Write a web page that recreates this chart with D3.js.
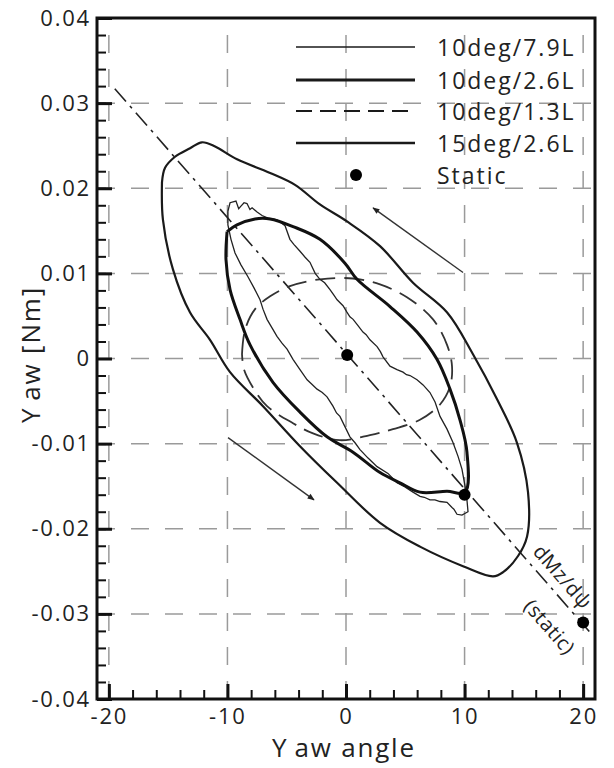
<!DOCTYPE html>
<html>
<head>
<meta charset="utf-8">
<script src="https://cdn.jsdelivr.net/npm/d3@7/dist/d3.min.js"></script>
<style>
  body { margin: 0; background: #fff; }
  text { font-family: "Open Sans", sans-serif; fill: #222; }
</style>
</head>
<body>
<svg></svg>
<script>
// yaw moment vs yaw angle, hysteresis loops
const xTicks = [-20, -10, 0, 10, 20];
const yTicks = [-0.04, -0.03, -0.02, -0.01, 0, 0.01, 0.02, 0.03, 0.04];
const yTickLabels = ["-0.04", "-0.03", "-0.02", "-0.01", "0", "0.01", "0.02", "0.03", "0.04"];
const seriesNames = ["10deg/7.9L", "10deg/2.6L", "10deg/1.3L", "15deg/2.6L", "Static"];

// 10deg / 7.9L  (thin, jagged)
const loop79 = [
  [-9.96, 0.0173], [-9.78, 0.0183], [-9.28, 0.0185], [-9.05, 0.0176], [-8.86, 0.0179], [-8.6, 0.0183],
  [-8.35, 0.0182], [-8.1, 0.0175], [-7.92, 0.0177], [-7.5, 0.0172], [-7.08, 0.0168], [-6.58, 0.0165],
  [-5.82, 0.0163], [-5.14, 0.0156], [-4.73, 0.014], [-4.4, 0.0134], [-3.88, 0.0126], [-3.45, 0.0119],
  [-3.04, 0.0113], [-2.6, 0.01], [-2.2, 0.0093], [-1.8, 0.0089], [-1.35, 0.0081], [-1.05, 0.0075],
  [-0.75, 0.0069], [-0.25, 0.0062], [0.05, 0.0055], [0.33, 0.0049], [0.6, 0.0046], [0.93, 0.004],
  [1.43, 0.0031], [1.7, 0.0028], [2.02, 0.0022], [2.62, 0.0014], [2.9, 0.0008], [3.12, 0.0002],
  [3.71, -0.0009], [4.3, -0.0013], [4.81, -0.0016], [5.1, -0.0019], [5.4, -0.002], [5.99, -0.0025],
  [6.5, -0.0031], [7.08, -0.004], [7.51, -0.0051], [7.93, -0.0068], [8.52, -0.0083], [9.03, -0.0099],
  [9.45, -0.0115], [9.78, -0.013], [10.04, -0.015], [10.2, -0.0166], [10.29, -0.018], [9.78, -0.0184],
  [9.36, -0.0183], [9.1, -0.0177], [8.94, -0.0175], [8.52, -0.0169], [7.93, -0.0168], [7.5, -0.0166],
  [7.08, -0.0166], [6.6, -0.0163], [6.24, -0.0162], [5.65, -0.0157], [4.97, -0.0151], [4.3, -0.0146],
  [3.54, -0.0135], [2.62, -0.0127], [1.86, -0.0117], [1.18, -0.0107], [0.76, -0.0099], [0.33, -0.0092],
  [-0.09, -0.008], [-0.51, -0.0068], [-0.8, -0.0064], [-1.1, -0.0056], [-1.6, -0.0045], [-2.0, -0.004],
  [-2.44, -0.0036], [-2.9, -0.003], [-3.28, -0.0025], [-3.88, -0.0013], [-4.47, -0.0001], [-4.97, 0.0011],
  [-5.4, 0.0018], [-5.82, 0.0026], [-6.24, 0.0036], [-6.66, 0.0046], [-7.0, 0.0058], [-7.25, 0.0069],
  [-7.76, 0.0083], [-8.27, 0.0096], [-8.86, 0.011], [-9.36, 0.0124], [-9.7, 0.014], [-9.96, 0.0157],
  [-9.96, 0.0173]
];

// 10deg / 2.6L  (thick)
const loop26 = [
  [-10.03, 0.0149], [-9.19, 0.0157], [-7.67, 0.0164], [-6.4, 0.0164], [-4.47, 0.0155], [-2.2, 0.014],
  [-0.09, 0.0112], [0.93, 0.0093], [3.71, 0.0061], [5.99, 0.0031], [7.67, -0.0001], [8.77, -0.0036],
  [9.61, -0.0072], [10.2, -0.011], [10.04, -0.0157], [8.52, -0.0156], [6.24, -0.0157], [4.55, -0.0146],
  [2.87, -0.0134], [0.59, -0.011], [-1.6, -0.0092], [-3.88, -0.0063], [-6.16, -0.0028], [-8.09, 0.0016],
  [-8.94, 0.0046], [-9.78, 0.0081], [-10.12, 0.0116], [-10.03, 0.0149]
];

// 10deg / 1.3L  (dashed)
const loop13 = [
  [-8.77, 0.0005], [-8.51, 0.0034], [-7.67, 0.0058], [-6.4, 0.0073], [-4.73, 0.0085], [-2.2, 0.0093],
  [0.59, 0.0094], [2.87, 0.0087], [5.14, 0.0072], [7.34, 0.0046], [8.52, 0.0016], [8.94, -0.0009],
  [8.77, -0.0033], [7.93, -0.0054], [6.24, -0.0072], [3.96, -0.0083], [2.02, -0.009], [-0.51, -0.0096],
  [-2.78, -0.0088], [-4.47, -0.0076], [-6.66, -0.0056], [-7.85, -0.0034], [-8.6, -0.0013], [-8.77, 0.0005]
];

// 15deg / 2.6L
const loop15 = [
  [-15.52, 0.0207], [-15.26, 0.0224], [-14.42, 0.0237], [-13.15, 0.0247], [-12.14, 0.0254], [-11.04, 0.0249],
  [-9.19, 0.0234], [-6.4, 0.0218], [-4.3, 0.0204], [-2.2, 0.0181], [0.09, 0.0161], [2.87, 0.0132],
  [5.65, 0.0089], [8.53, 0.0054], [10.71, 0.0005], [12.74, -0.0048], [14.42, -0.0099], [15.35, -0.0157],
  [15.27, -0.0209], [14.51, -0.0232], [13.25, -0.0251], [12.4, -0.0256], [9.87, -0.0244], [6.24, -0.0221],
  [2.87, -0.0193], [-0.75, -0.0146], [-3.88, -0.0103], [-7.0, -0.0056], [-9.78, -0.0016], [-11.47, 0.0022],
  [-13.15, 0.0054], [-14.6, 0.0105], [-15.44, 0.0163], [-15.52, 0.0207]
];

const staticPts = [[0.1, 0.0004], [10, -0.016], [20, -0.031]];
const staticSlope = [[-19.5, 0.0317], [20.6, -0.0322]];
const arrows = [
  [[9.87, 0.0101], [2.28, 0.0177]],
  [[-9.95, -0.0093], [-2.7, -0.0166]]
];

const W = 614, H = 768;
const svg = d3.select("svg").attr("width", W).attr("height", H);

const x = d3.scaleLinear().domain([-21, 21]).range([97, 595]);
const y = d3.scaleLinear().domain([-0.04, 0.04]).range([699, 18]);

// grid
const grid = svg.append("g").attr("stroke", "#9a9a9a").attr("stroke-width", 1.5)
  .attr("stroke-dasharray", "18,16");
grid.selectAll(".gx").data(xTicks).enter().append("line")
  .attr("x1", (d) => x(d)).attr("x2", (d) => x(d))
  .attr("y1", y(-0.04)).attr("y2", y(0.04));
grid.selectAll(".gy").data(yTicks.slice(1, -1)).enter().append("line")
  .attr("x1", x(-21)).attr("x2", x(21))
  .attr("y1", (d) => y(d)).attr("y2", (d) => y(d));

// axes (ticks inward)
const fmtY = (d) => yTickLabels[yTicks.indexOf(d)];
const xAxis = svg.append("g").attr("transform", `translate(0,${y(-0.04)})`)
  .call(d3.axisBottom(x).tickValues(xTicks).tickSize(-15).tickPadding(9).tickFormat((d) => String(d)));
const xMinor = svg.append("g").attr("transform", `translate(0,${y(-0.04)})`)
  .call(d3.axisBottom(x).tickValues(d3.range(-20, 21, 2)).tickSize(-9).tickFormat(""));
const yAxis = svg.append("g").attr("transform", `translate(${x(-21)},0)`)
  .call(d3.axisLeft(y).tickValues(yTicks).tickSize(-15).tickPadding(6).tickFormat(fmtY));
const yMinor = svg.append("g").attr("transform", `translate(${x(-21)},0)`)
  .call(d3.axisLeft(y).tickValues(d3.range(-40, 41, 2).map((v) => v / 1000)).tickSize(-9).tickFormat(""));

[xAxis, xMinor, yAxis, yMinor].forEach((g) => {
  g.select(".domain").remove();
  g.selectAll(".tick line").attr("stroke", "#111").attr("stroke-width", 2);
});
xAxis.selectAll(".tick line").attr("stroke-width", 3);
yAxis.selectAll(".tick line").attr("stroke-width", 3);
[xAxis, yAxis].forEach((g) => {
  g.selectAll("text").style("font-family", "Open Sans, sans-serif")
    .style("font-size", "22px").style("letter-spacing", "1.8px").attr("fill", "#222");
});

// frame
svg.append("rect")
  .attr("x", x(-21)).attr("y", y(0.04))
  .attr("width", x(21) - x(-21)).attr("height", y(-0.04) - y(0.04))
  .attr("fill", "none").attr("stroke", "#111").attr("stroke-width", 3);

// axis titles
const xt = svg.append("text").attr("x", 344).attr("y", 757)
  .attr("text-anchor", "middle").style("font-size", "26px").style("letter-spacing", "1.8px");
xt.append("tspan").text("Y");
xt.append("tspan").attr("dx", 6).text("aw angle");

const yt = svg.append("text")
  .attr("transform", `translate(40,${(y(0.04) + y(-0.04)) / 2 - 4}) rotate(-90)`)
  .attr("text-anchor", "middle").style("font-size", "26px").style("letter-spacing", "1.8px");
yt.append("tspan").text("Y");
yt.append("tspan").attr("dx", 6).text("aw [Nm]");

// static slope line
const line = d3.line().x((d) => x(d[0])).y((d) => y(d[1]));
const smooth = d3.line().x((d) => x(d[0])).y((d) => y(d[1])).curve(d3.curveCatmullRom);

svg.append("path").datum(staticSlope).attr("d", line)
  .attr("fill", "none").attr("stroke", "#222").attr("stroke-width", 1.6)
  .attr("stroke-dasharray", "17,6,3,6");

// loops
svg.append("path").datum(loop15).attr("d", smooth)
  .attr("fill", "none").attr("stroke", "#1a1a1a").attr("stroke-width", 2.2);
svg.append("path").datum(loop13).attr("d", smooth)
  .attr("fill", "none").attr("stroke", "#333").attr("stroke-width", 1.8)
  .attr("stroke-dasharray", "20,9");
svg.append("path").datum(loop79).attr("d", line)
  .attr("fill", "none").attr("stroke", "#222").attr("stroke-width", 1.3);
svg.append("path").datum(loop26).attr("d", smooth)
  .attr("fill", "none").attr("stroke", "#111").attr("stroke-width", 3);

// static points
svg.selectAll(".st").data(staticPts).enter().append("circle")
  .attr("cx", (d) => x(d[0])).attr("cy", (d) => y(d[1])).attr("r", 6).attr("fill", "#000");

// arrows
svg.append("defs").append("marker")
  .attr("id", "ah").attr("viewBox", "0 0 10 10").attr("refX", 9).attr("refY", 5)
  .attr("markerWidth", 9).attr("markerHeight", 7).attr("markerUnits", "userSpaceOnUse")
  .attr("orient", "auto")
  .append("path").attr("d", "M0,1L10,5L0,9Z").attr("fill", "#222");
svg.selectAll(".arr").data(arrows).enter().append("path")
  .attr("d", line).attr("fill", "none").attr("stroke", "#333").attr("stroke-width", 1.4)
  .attr("marker-end", "url(#ah)");

// slope annotation
const ang = Math.atan2(y(staticSlope[1][1]) - y(staticSlope[0][1]), x(staticSlope[1][0]) - x(staticSlope[0][0])) * 180 / Math.PI;
const ann = [
  { t: "dMz/d\u03c8", p: [18.3, -0.0256] },
  { t: "(static)", p: [17.2, -0.0315] }
];
svg.selectAll(".ann").data(ann).enter().append("text")
  .attr("transform", (d) => `translate(${x(d.p[0])},${y(d.p[1])}) rotate(${ang})`)
  .attr("text-anchor", "middle").attr("dominant-baseline", "central")
  .style("font-size", "20px").style("letter-spacing", "0.5px")
  .text((d) => d.t);

// legend
const legStyles = [
  { w: 1.4, dash: null },
  { w: 3.2, dash: null },
  { w: 2, dash: "16,8" },
  { w: 2.6, dash: null }
];
const legY = [47, 80, 111, 143, 175];
const leg = svg.append("g");
legStyles.forEach((s, i) => {
  leg.append("line").attr("x1", 296).attr("x2", 415).attr("y1", legY[i]).attr("y2", legY[i])
    .attr("stroke", "#1a1a1a").attr("stroke-width", s.w)
    .attr("stroke-dasharray", s.dash);
});
leg.append("circle").attr("cx", 356).attr("cy", legY[4]).attr("r", 6).attr("fill", "#000");
leg.selectAll("text").data(seriesNames).enter().append("text")
  .attr("x", 437).attr("y", (d, i) => legY[i])
  .attr("dominant-baseline", "central")
  .style("font-size", "23px").style("letter-spacing", "2px")
  .text((d) => d);
</script>
</body>
</html>
